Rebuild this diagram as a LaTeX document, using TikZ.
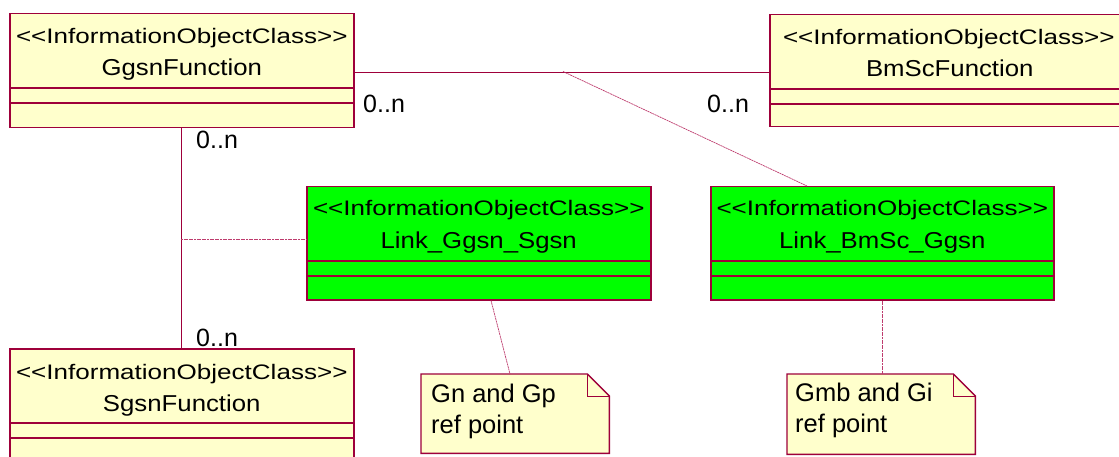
\documentclass[tikz,border=0pt]{standalone}
\usepackage{fontspec}
\setmainfont{Liberation Sans}
\newfontfamily\stfont[FakeStretch=1.24]{Liberation Sans}
\newfontfamily\nmfont[FakeStretch=1.12]{Liberation Sans}
\definecolor{bord}{RGB}{158,0,58}
\definecolor{lnk}{RGB}{190,60,110}
\definecolor{ylw}{RGB}{255,255,204}
\definecolor{grn}{RGB}{0,255,0}
\tikzset{
  clsbox/.style={draw=bord, line width=1.5pt, rectangle, inner sep=0pt, anchor=north west},
  ylwbox/.style={clsbox, fill=ylw},
  grnbox/.style={clsbox, fill=grn},
  comp/.style={draw=bord, line width=1.1pt},
  sttext/.style={font=\stfont\fontsize{21}{25}\selectfont, anchor=base, inner sep=0pt},
  nmtext/.style={font=\nmfont\fontsize{23}{27}\selectfont, anchor=base, inner sep=0pt},
  mult/.style={font=\fontsize{25}{30}\selectfont, anchor=base west, inner sep=0pt},
  notetext/.style={font=\fontsize{25.5}{31}\selectfont, anchor=base west, inner sep=0pt},
  notebox/.style={rectangle, inner sep=0pt, anchor=north west},
  assoc/.style={draw=bord, line width=0.9pt},
  attach/.style={draw=lnk, line width=0.7pt, dash pattern=on 2pt off 0.6pt},
}
\newcommand{\stereo}{<\kern0pt<InformationObjectClass>\kern0pt>}
\begin{document}
\begin{tikzpicture}[x=1pt,y=-1pt]
\clip (0,0) rectangle (1119,457);
\fill[white] (0,0) rectangle (1119,457);

% class boxes
\node[ylwbox, minimum width=344pt, minimum height=114pt] (ggsn) at (9,13) {};
\node[ylwbox, minimum width=360pt, minimum height=112pt] (bmsc) at (769,14) {};
\node[grnbox, minimum width=344pt, minimum height=113pt] (linkgs) at (306,186) {};
\node[grnbox, minimum width=343pt, minimum height=113pt] (linkbg) at (710,186) {};
\node[ylwbox, minimum width=344pt, minimum height=130pt] (sgsn) at (9,348) {};

% compartments
\foreach \b in {ggsn,bmsc,linkgs,linkbg,sgsn}{
  \draw[comp] ([yshift=-75pt]\b.north west) -- ([yshift=-75pt]\b.north east);
  \draw[comp] ([yshift=-90pt]\b.north west) -- ([yshift=-90pt]\b.north east);
}

% class texts
\node[sttext] (ggsnS) at ([yshift=-31pt]ggsn.north) {\stereo};
\node[nmtext] (ggsnN) at ([yshift=-63pt]ggsn.north) {GgsnFunction};
\node[sttext] (bmscS) at ([yshift=-31pt,xshift=-1pt]bmsc.north) {\stereo};
\node[nmtext] (bmscN) at ([yshift=-63pt]bmsc.north) {BmScFunction};
\node[sttext] (linkgsS) at ([yshift=-30pt]linkgs.north) {\stereo};
\node[nmtext] (linkgsN) at ([yshift=-62pt]linkgs.north) {Link\_Ggsn\_Sgsn};
\node[sttext] (linkbgS) at ([yshift=-30pt]linkbg.north) {\stereo};
\node[nmtext] (linkbgN) at ([yshift=-62pt]linkbg.north) {Link\_BmSc\_Ggsn};
\node[sttext] (sgsnS) at ([yshift=-31pt]sgsn.north) {\stereo};
\node[nmtext] (sgsnN) at ([yshift=-63pt]sgsn.north) {SgsnFunction};

% notes
\node[notebox, minimum width=188pt, minimum height=79pt] (gnnote) at (421,374) {};
\node[notebox, minimum width=188pt, minimum height=80pt] (gmbnote) at (787,374) {};
\foreach \n in {gnnote,gmbnote}{
  \filldraw[fill=ylw, draw=bord, line width=1.4pt]
    (\n.north west) -- ([xshift=-22pt]\n.north east) -- ([yshift=-22pt]\n.north east)
    -- (\n.south east) -- (\n.south west) -- cycle;
  \draw[draw=bord, line width=1pt]
    ([xshift=-22pt]\n.north east) -- ([xshift=-22pt,yshift=-22pt]\n.north east)
    -- ([yshift=-22pt]\n.north east);
}
\node[notetext] (gntext1) at (431,402) {Gn and Gp};
\node[notetext] (gntext2) at (431,433) {ref point};
\node[notetext] (gmbtext1) at (795,401) {Gmb and Gi};
\node[notetext] (gmbtext2) at (795,432) {ref point};

% associations
\draw[assoc] ([yshift=-1.5pt]ggsn.east) -- ([yshift=-1.5pt]bmsc.west);
\draw[assoc] (ggsn.south) -- (sgsn.north);
\coordinate (amid) at (563,71.5);
\coordinate (vmid) at (181,239);
\draw[attach] (amid) -- ([xshift=97pt]linkbg.north west);
\draw[attach] (vmid) -- (linkgs.west |- vmid);
\draw[attach] ([xshift=185pt]linkgs.south west) -- ([xshift=89pt]gnnote.north west);
\draw[attach] ([xshift=172pt]linkbg.south west) -- ([xshift=95pt]gmbnote.north west);

% multiplicities
\node[mult] (m1) at (363,113) {0..n};
\node[mult] (m2) at (707,113) {0..n};
\node[mult] (m3) at (196,149) {0..n};
\node[mult] (m4) at (196,346) {0..n};
\end{tikzpicture}
\end{document}
